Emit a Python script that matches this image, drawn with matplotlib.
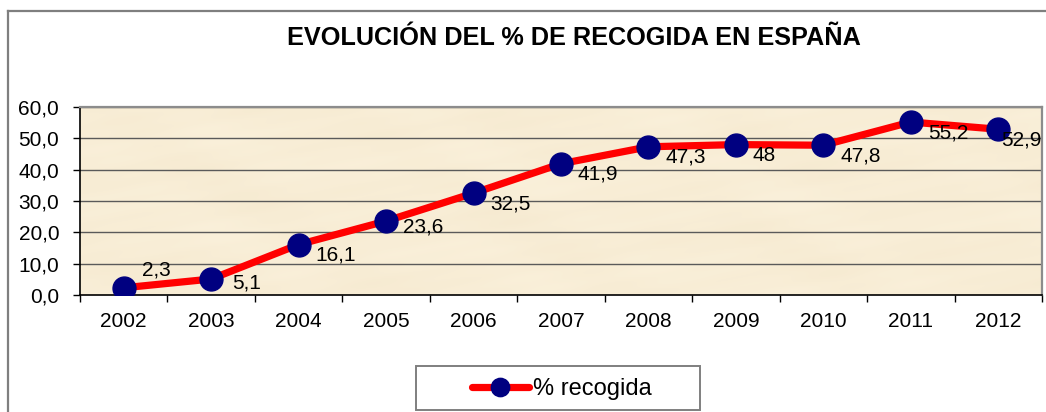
import numpy as np
import matplotlib
matplotlib.use("Agg")
import matplotlib.pyplot as plt
from matplotlib.lines import Line2D
from matplotlib.patches import Rectangle

plt.rcParams["font.family"] = ["Liberation Sans", "DejaVu Sans"]

# Data
years = ["2002", "2003", "2004", "2005", "2006", "2007",
         "2008", "2009", "2010", "2011", "2012"]
recogida = [2.3, 5.1, 16.1, 23.6, 32.5, 41.9, 47.3, 48, 47.8, 55.2, 52.9]
series_name = "% recogida"
title = "EVOLUCIÓN DEL % DE RECOGIDA EN ESPAÑA"
y_ticks = [0, 10, 20, 30, 40, 50, 60]

# Label offsets (pixels) relative to each point
default_offset = (17, -16)
label_offsets = {0: (18, 12), 1: (21, -9), 3: (17, -11), 10: (3, -16)}

W, H = 1046, 412
fig = plt.figure(figsize=(W / 100, H / 100), dpi=100)
fig.patch.set_facecolor("white")

def fx(px):
    return px / W

def fy(py):
    return 1 - py / H

# Outer chart frame (top and left edges)
frame_color = "#7f7f7f"
fig.add_artist(Line2D([fx(8), 1.0], [fy(11), fy(11)], color=frame_color, lw=1.6,
                      transform=fig.transFigure))
fig.add_artist(Line2D([fx(8), fx(8)], [fy(11), 0.0], color=frame_color, lw=1.6,
                      transform=fig.transFigure))

# Title
fig.text(fx(573.5), fy(38), title, ha="center", va="center",
         fontsize=18.2, fontweight="bold", color="black")

# Plot area
left, right, top, bottom = 80, 1042, 107, 295
ax = fig.add_axes([fx(left), fy(bottom), fx(right) - fx(left), fy(top) - fy(bottom)])

# Parchment-like background
gx, gy = np.meshgrid(np.linspace(0, 1, 400), np.linspace(0, 1, 120))
mottle = (np.sin(gx * 23 + gy * 7) * np.sin(gy * 17 - gx * 5) * 0.5
          + np.sin(gx * 61 + gy * 29) * np.cos(gy * 43 + gx * 11) * 0.3
          + np.sin(gx * 7 - gy * 13) * 0.2)
base = np.array([250, 240, 218]) / 255.0
shade = np.array([244, 231, 204]) / 255.0
t = (mottle - mottle.min()) / (mottle.max() - mottle.min())
tex = base[None, None, :] * (1 - t[..., None] * 0.6) + shade[None, None, :] * (t[..., None] * 0.6)
ax.imshow(tex, extent=[0, 1, 0, 1], transform=ax.transAxes, aspect="auto",
          zorder=0, interpolation="bicubic")

x = np.arange(len(years))
ax.set_xlim(-0.5, len(years) - 0.5)
ax.set_ylim(0, 60)

# Gridlines
for v in y_ticks[1:]:
    ax.axhline(v, color="#5a5a5a", lw=1.0, zorder=1)

series_line, = ax.plot(x, recogida, color="#ff0000", lw=5.2, marker="o", markersize=16.5,
                       markerfacecolor="#000080", markeredgecolor="#000080", zorder=3,
                       solid_capstyle="round", label=series_name)

def fmt(v):
    return f"{v:g}".replace(".", ",")

for i, v in enumerate(recogida):
    dx, dy = label_offsets.get(i, default_offset)
    ax.annotate(fmt(v), (x[i], v), xytext=(dx, dy), textcoords="offset pixels",
                ha="left", va="baseline", fontsize=15, color="black", zorder=4)

# Axes styling
ax.set_yticks(y_ticks)
ax.set_yticklabels([f"{v:.1f}".replace(".", ",") for v in y_ticks])
ax.set_xticks(x)
ax.set_xticklabels(years)
ax.set_xticks(np.arange(-0.5, len(years), 1.0), minor=True)
ax.tick_params(axis="x", which="major", length=0, pad=12, labelsize=15)
ax.tick_params(axis="x", which="minor", length=5, width=1, color="black", direction="out")
ax.tick_params(axis="y", which="major", length=5, width=1, direction="out", pad=10,
               labelsize=15)
for s in ["left", "bottom"]:
    ax.spines[s].set_color("black")
    ax.spines[s].set_linewidth(1.2)
for s in ["top", "right"]:
    ax.spines[s].set_color("#8c8c8c")
    ax.spines[s].set_linewidth(1.6)

# Legend box
box_l, box_r, box_t, box_b = 416, 700, 366, 410
fig.add_artist(Rectangle((fx(box_l), fy(box_b)), fx(box_r) - fx(box_l), fy(box_t) - fy(box_b),
                         transform=fig.transFigure, facecolor="white",
                         edgecolor="#7f7f7f", lw=1.4))
leg = fig.legend(handles=[series_line], loc="center",
                 bbox_to_anchor=(fx(562), fy(389)), frameon=False,
                 fontsize=17, handlelength=2.4, handletextpad=0.2, markerscale=0.8)

fig.savefig("out.png", dpi=100)
